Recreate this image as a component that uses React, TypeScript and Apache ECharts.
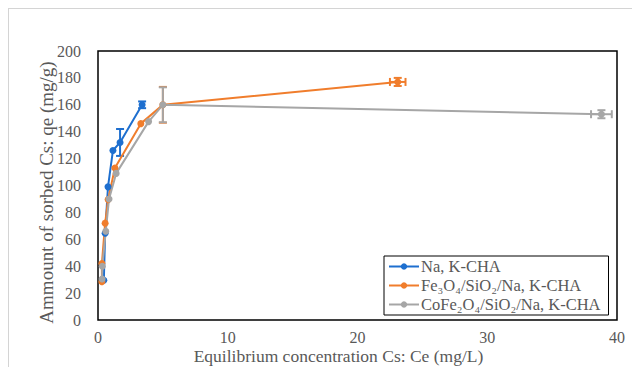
import React, { useEffect, useRef } from "react";
import * as echarts from "echarts";

// Isotherm data: [Ce (mg/L), qe (mg/g)]
const naKCha: number[][] = [
  [0.45, 29.6], [0.55, 64.5], [0.77, 99], [1.15, 126], [1.7, 132], [3.4, 160],
];
const feSiNaKCha: number[][] = [
  [0.3, 28.5], [0.3, 42], [0.55, 72], [0.78, 89.5], [1.3, 113], [3.3, 146], [5.0, 160], [23.1, 177],
];
const coFeSiNaKCha: number[][] = [
  [0.32, 30.5], [0.33, 40], [0.6, 66], [0.85, 90], [1.4, 109], [3.9, 147.5], [5.0, 160], [38.8, 153],
];

// Error bars: [x, y, xErr, yErr, seriesIndex]
const errorBars: number[][] = [
  [1.7, 132, 0, 10, 0],
  [3.4, 160, 0, 2.5, 0],
  [5.0, 160, 0, 13.3, 1],
  [23.1, 177, 0.6, 3, 1],
  [5.0, 160, 0, 13, 2],
  [38.8, 153, 0.8, 3, 2],
];

const seriesNames = ["Na, K-CHA", "Fe₃O₄/SiO₂/Na, K-CHA", "CoFe₂O₄/SiO₂/Na, K-CHA"];
const colors = ["#1E6FCF", "#F07D2C", "#A6A6A6"];
const seriesData = [naKCha, feSiNaKCha, coFeSiNaKCha];

const font = "'Liberation Serif', 'Times New Roman', serif";
const textColor = "#595959";

export default function App() {
  const ref = useRef<HTMLDivElement>(null);

  useEffect(() => {
    if (!ref.current) return;
    const chart = echarts.init(ref.current, null, { renderer: "svg" });

    const lineSeries = seriesData.map((d, i) => ({
      name: seriesNames[i],
      type: "line",
      data: d,
      symbol: "circle",
      symbolSize: 7,
      z: 3,
      itemStyle: { color: colors[i] },
      lineStyle: { color: colors[i], width: 2 },
    }));

    const errSeries = {
      type: "custom",
      silent: true,
      z: 2,
      data: errorBars,
      encode: { x: 0, y: 1 },
      renderItem: (params: any, api: any) => {
        const x = api.value(0);
        const y = api.value(1);
        const xe = api.value(2);
        const ye = api.value(3);
        const c = colors[api.value(4)];
        const cap = 4;
        const style = { stroke: c, lineWidth: 2 };
        const children: any[] = [];
        if (ye > 0) {
          const top = api.coord([x, y + ye]);
          const bot = api.coord([x, y - ye]);
          children.push(
            { type: "line", shape: { x1: top[0], y1: top[1], x2: bot[0], y2: bot[1] }, style },
            { type: "line", shape: { x1: top[0] - cap, y1: top[1], x2: top[0] + cap, y2: top[1] }, style },
            { type: "line", shape: { x1: bot[0] - cap, y1: bot[1], x2: bot[0] + cap, y2: bot[1] }, style }
          );
        }
        if (xe > 0) {
          const l = api.coord([x - xe, y]);
          const r = api.coord([x + xe, y]);
          children.push(
            { type: "line", shape: { x1: l[0], y1: l[1], x2: r[0], y2: r[1] }, style },
            { type: "line", shape: { x1: l[0], y1: l[1] - cap, x2: l[0], y2: l[1] + cap }, style },
            { type: "line", shape: { x1: r[0], y1: r[1] - cap, x2: r[0], y2: r[1] + cap }, style }
          );
        }
        return { type: "group", children };
      },
    };

    chart.setOption({
      animation: false,
      backgroundColor: "#ffffff",
      textStyle: { fontFamily: font },
      grid: {
        left: 89,
        right: 23,
        top: 42,
        bottom: 47,
        outerBoundsMode: "none",
        containLabel: false,
        show: true,
        borderColor: "#000",
        borderWidth: 1.5,
      },
      legend: {
        orient: "vertical",
        left: 375,
        top: 247,
        data: seriesNames,
        itemWidth: 30,
        itemHeight: 8,
        itemGap: 2,
        padding: [2, 8, 2, 4],
        borderColor: "#000",
        borderWidth: 1,
        backgroundColor: "#fff",
        textStyle: { fontFamily: font, fontSize: 16.5, color: textColor, padding: [0, 0, 0, -3] },
      },
      xAxis: {
        type: "value",
        min: 0,
        max: 40,
        interval: 10,
        name: "Equilibrium concentration Cs: Ce (mg/L)",
        nameLocation: "middle",
        nameMoveOverlap: false,
        nameGap: 27,
        nameTextStyle: {
          fontFamily: font,
          fontSize: 17.5,
          lineHeight: 17,
          color: textColor,
          padding: [0, 38, 0, 0],
        },
        axisLine: { show: false },
        axisTick: { show: false },
        splitLine: { show: false },
        axisLabel: { fontFamily: font, fontSize: 16, lineHeight: 15, color: textColor, margin: 10 },
      },
      yAxis: {
        type: "value",
        min: 0,
        max: 200,
        interval: 20,
        name: "Ammount of sorbed Cs: qe (mg/g)",
        nameLocation: "middle",
        nameMoveOverlap: false,
        nameGap: 42,
        nameTextStyle: { fontFamily: font, fontSize: 19, color: textColor, padding: [0, 14, 0, 0] },
        axisLine: { show: false },
        axisTick: { show: false },
        splitLine: { show: false },
        axisLabel: { fontFamily: font, fontSize: 16, color: textColor, margin: 17 },
      },
      series: [errSeries, ...lineSeries],
    });

    return () => chart.dispose();
  }, []);

  return (
    <div
      ref={ref}
      style={{
        width: 632,
        height: 359,
        boxSizing: "border-box",
        borderTop: "1px solid #d4d4d4",
        borderLeft: "1px solid #d4d4d4",
      }}
    />
  );
}
